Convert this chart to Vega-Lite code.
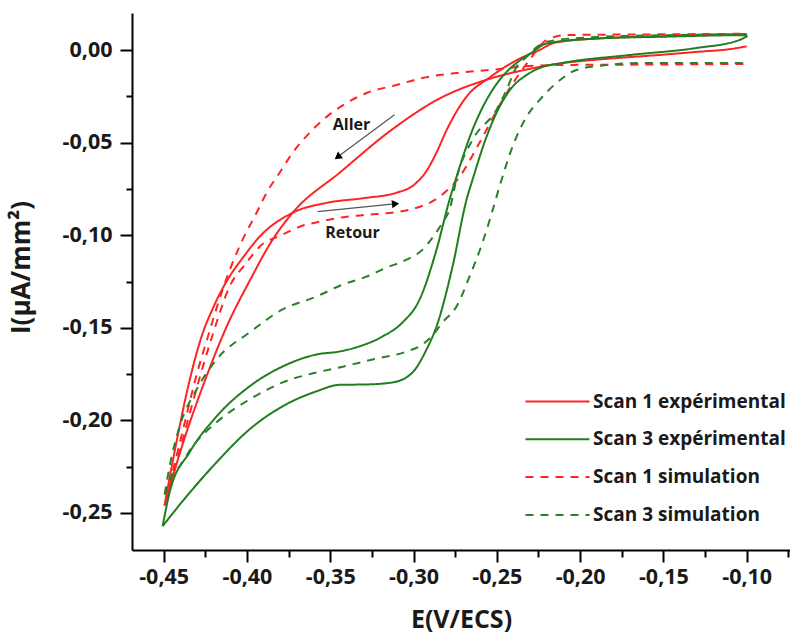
{
  "$schema": "https://vega.github.io/schema/vega-lite/v6.json",
  "width": 658,
  "height": 537,
  "autosize": {"type": "none"},
  "padding": {"left": 132, "top": 13, "right": 0, "bottom": 90},
  "background": "white",
  "config": {
    "view": {"stroke": null},
    "font": "Open Sans",
    "axis": {
      "domainColor": "#000000", "domainWidth": 2, "tickColor": "#000000", "tickWidth": 2,
      "grid": false, "labelFont": "Open Sans", "labelFontWeight": "bold", "labelFontSize": 21.5,
      "labelColor": "#1a1a1a", "titleFont": "Open Sans", "titleFontWeight": "bold", "titleFontSize": 26, "titleColor": "#1a1a1a"
    }
  },
  "datasets": {
    "curves": [
      {"series": "Scan 1 expérimental", "branch": "a", "E": -0.100, "I": 0.002},
      {"series": "Scan 1 expérimental", "branch": "a", "E": -0.110, "I": 0.0005},
      {"series": "Scan 1 expérimental", "branch": "a", "E": -0.130, "I": -0.001},
      {"series": "Scan 1 expérimental", "branch": "a", "E": -0.150, "I": -0.0025},
      {"series": "Scan 1 expérimental", "branch": "a", "E": -0.170, "I": -0.0038},
      {"series": "Scan 1 expérimental", "branch": "a", "E": -0.190, "I": -0.0052},
      {"series": "Scan 1 expérimental", "branch": "a", "E": -0.210, "I": -0.007},
      {"series": "Scan 1 expérimental", "branch": "a", "E": -0.232, "I": -0.0105},
      {"series": "Scan 1 expérimental", "branch": "a", "E": -0.256, "I": -0.016},
      {"series": "Scan 1 expérimental", "branch": "a", "E": -0.284, "I": -0.026},
      {"series": "Scan 1 expérimental", "branch": "a", "E": -0.313, "I": -0.043},
      {"series": "Scan 1 expérimental", "branch": "a", "E": -0.344, "I": -0.066},
      {"series": "Scan 1 expérimental", "branch": "a", "E": -0.3726, "I": -0.0879},
      {"series": "Scan 1 expérimental", "branch": "a", "E": -0.385, "I": -0.103},
      {"series": "Scan 1 expérimental", "branch": "a", "E": -0.398, "I": -0.124},
      {"series": "Scan 1 expérimental", "branch": "a", "E": -0.413, "I": -0.151},
      {"series": "Scan 1 expérimental", "branch": "a", "E": -0.425, "I": -0.178},
      {"series": "Scan 1 expérimental", "branch": "a", "E": -0.439, "I": -0.214},
      {"series": "Scan 1 expérimental", "branch": "a", "E": -0.4495, "I": -0.246},
      {"series": "Scan 1 expérimental", "branch": "r", "E": -0.4495, "I": -0.246},
      {"series": "Scan 1 expérimental", "branch": "r", "E": -0.4428, "I": -0.214},
      {"series": "Scan 1 expérimental", "branch": "r", "E": -0.435, "I": -0.1806},
      {"series": "Scan 1 expérimental", "branch": "r", "E": -0.4278, "I": -0.1563},
      {"series": "Scan 1 expérimental", "branch": "r", "E": -0.4194, "I": -0.1374},
      {"series": "Scan 1 expérimental", "branch": "r", "E": -0.4116, "I": -0.124},
      {"series": "Scan 1 expérimental", "branch": "r", "E": -0.402, "I": -0.1116},
      {"series": "Scan 1 expérimental", "branch": "r", "E": -0.3924, "I": -0.1008},
      {"series": "Scan 1 expérimental", "branch": "r", "E": -0.3726, "I": -0.0879},
      {"series": "Scan 1 expérimental", "branch": "r", "E": -0.352, "I": -0.0825},
      {"series": "Scan 1 expérimental", "branch": "r", "E": -0.330, "I": -0.080},
      {"series": "Scan 1 expérimental", "branch": "r", "E": -0.310, "I": -0.077},
      {"series": "Scan 1 expérimental", "branch": "r", "E": -0.300, "I": -0.073},
      {"series": "Scan 1 expérimental", "branch": "r", "E": -0.292, "I": -0.065},
      {"series": "Scan 1 expérimental", "branch": "r", "E": -0.286, "I": -0.055},
      {"series": "Scan 1 expérimental", "branch": "r", "E": -0.280, "I": -0.043},
      {"series": "Scan 1 expérimental", "branch": "r", "E": -0.268, "I": -0.025},
      {"series": "Scan 1 expérimental", "branch": "r", "E": -0.254, "I": -0.0146},
      {"series": "Scan 1 expérimental", "branch": "r", "E": -0.238, "I": -0.0054},
      {"series": "Scan 1 expérimental", "branch": "r", "E": -0.2244, "I": 0.0},
      {"series": "Scan 1 expérimental", "branch": "r", "E": -0.215, "I": 0.004},
      {"series": "Scan 1 expérimental", "branch": "r", "E": -0.190, "I": 0.0062},
      {"series": "Scan 1 expérimental", "branch": "r", "E": -0.150, "I": 0.0075},
      {"series": "Scan 1 expérimental", "branch": "r", "E": -0.100, "I": 0.0086},

      {"series": "Scan 1 simulation", "branch": "a", "E": -0.100, "I": -0.0075},
      {"series": "Scan 1 simulation", "branch": "a", "E": -0.150, "I": -0.0078},
      {"series": "Scan 1 simulation", "branch": "a", "E": -0.2124, "I": -0.0081},
      {"series": "Scan 1 simulation", "branch": "a", "E": -0.2304, "I": -0.0086},
      {"series": "Scan 1 simulation", "branch": "a", "E": -0.2544, "I": -0.0108},
      {"series": "Scan 1 simulation", "branch": "a", "E": -0.2742, "I": -0.0124},
      {"series": "Scan 1 simulation", "branch": "a", "E": -0.2946, "I": -0.0151},
      {"series": "Scan 1 simulation", "branch": "a", "E": -0.3102, "I": -0.0189},
      {"series": "Scan 1 simulation", "branch": "a", "E": -0.3282, "I": -0.0232},
      {"series": "Scan 1 simulation", "branch": "a", "E": -0.3402, "I": -0.0286},
      {"series": "Scan 1 simulation", "branch": "a", "E": -0.3522, "I": -0.0361},
      {"series": "Scan 1 simulation", "branch": "a", "E": -0.3624, "I": -0.0447},
      {"series": "Scan 1 simulation", "branch": "a", "E": -0.3726, "I": -0.0555},
      {"series": "Scan 1 simulation", "branch": "a", "E": -0.3804, "I": -0.0663},
      {"series": "Scan 1 simulation", "branch": "a", "E": -0.3882, "I": -0.0771},
      {"series": "Scan 1 simulation", "branch": "a", "E": -0.3942, "I": -0.0879},
      {"series": "Scan 1 simulation", "branch": "a", "E": -0.4026, "I": -0.1024},
      {"series": "Scan 1 simulation", "branch": "a", "E": -0.4086, "I": -0.1148},
      {"series": "Scan 1 simulation", "branch": "a", "E": -0.4146, "I": -0.1294},
      {"series": "Scan 1 simulation", "branch": "a", "E": -0.4235, "I": -0.155},
      {"series": "Scan 1 simulation", "branch": "a", "E": -0.431, "I": -0.178},
      {"series": "Scan 1 simulation", "branch": "a", "E": -0.437, "I": -0.200},
      {"series": "Scan 1 simulation", "branch": "a", "E": -0.443, "I": -0.222},
      {"series": "Scan 1 simulation", "branch": "a", "E": -0.4485, "I": -0.243},
      {"series": "Scan 1 simulation", "branch": "r", "E": -0.4485, "I": -0.243},
      {"series": "Scan 1 simulation", "branch": "r", "E": -0.439, "I": -0.212},
      {"series": "Scan 1 simulation", "branch": "r", "E": -0.430, "I": -0.182},
      {"series": "Scan 1 simulation", "branch": "r", "E": -0.421, "I": -0.155},
      {"series": "Scan 1 simulation", "branch": "r", "E": -0.4104, "I": -0.1277},
      {"series": "Scan 1 simulation", "branch": "r", "E": -0.4002, "I": -0.1148},
      {"series": "Scan 1 simulation", "branch": "r", "E": -0.3924, "I": -0.1062},
      {"series": "Scan 1 simulation", "branch": "r", "E": -0.3786, "I": -0.0997},
      {"series": "Scan 1 simulation", "branch": "r", "E": -0.3684, "I": -0.0954},
      {"series": "Scan 1 simulation", "branch": "r", "E": -0.3564, "I": -0.0927},
      {"series": "Scan 1 simulation", "branch": "r", "E": -0.3402, "I": -0.090},
      {"series": "Scan 1 simulation", "branch": "r", "E": -0.3282, "I": -0.089},
      {"series": "Scan 1 simulation", "branch": "r", "E": -0.3102, "I": -0.0875},
      {"series": "Scan 1 simulation", "branch": "r", "E": -0.3024, "I": -0.0862},
      {"series": "Scan 1 simulation", "branch": "r", "E": -0.2844, "I": -0.0792},
      {"series": "Scan 1 simulation", "branch": "r", "E": -0.2724, "I": -0.0685},
      {"series": "Scan 1 simulation", "branch": "r", "E": -0.2604, "I": -0.0501},
      {"series": "Scan 1 simulation", "branch": "r", "E": -0.2466, "I": -0.027},
      {"series": "Scan 1 simulation", "branch": "r", "E": -0.2304, "I": -0.0054},
      {"series": "Scan 1 simulation", "branch": "r", "E": -0.2202, "I": 0.0054},
      {"series": "Scan 1 simulation", "branch": "r", "E": -0.2082, "I": 0.0081},
      {"series": "Scan 1 simulation", "branch": "r", "E": -0.150, "I": 0.0085},
      {"series": "Scan 1 simulation", "branch": "r", "E": -0.100, "I": 0.0088},

      {"series": "Scan 3 expérimental", "branch": "a", "E": -0.0996, "I": 0.0075},
      {"series": "Scan 3 expérimental", "branch": "a", "E": -0.1044, "I": 0.0054},
      {"series": "Scan 3 expérimental", "branch": "a", "E": -0.1302, "I": 0.0011},
      {"series": "Scan 3 expérimental", "branch": "a", "E": -0.1704, "I": -0.0027},
      {"series": "Scan 3 expérimental", "branch": "a", "E": -0.2106, "I": -0.007},
      {"series": "Scan 3 expérimental", "branch": "a", "E": -0.2244, "I": -0.0097},
      {"series": "Scan 3 expérimental", "branch": "a", "E": -0.2322, "I": -0.0135},
      {"series": "Scan 3 expérimental", "branch": "a", "E": -0.2406, "I": -0.0199},
      {"series": "Scan 3 expérimental", "branch": "a", "E": -0.2484, "I": -0.0307},
      {"series": "Scan 3 expérimental", "branch": "a", "E": -0.2562, "I": -0.0469},
      {"series": "Scan 3 expérimental", "branch": "a", "E": -0.2646, "I": -0.0701},
      {"series": "Scan 3 expérimental", "branch": "a", "E": -0.2682, "I": -0.0809},
      {"series": "Scan 3 expérimental", "branch": "a", "E": -0.2766, "I": -0.117},
      {"series": "Scan 3 expérimental", "branch": "a", "E": -0.2862, "I": -0.1493},
      {"series": "Scan 3 expérimental", "branch": "a", "E": -0.2922, "I": -0.1617},
      {"series": "Scan 3 expérimental", "branch": "a", "E": -0.3006, "I": -0.1741},
      {"series": "Scan 3 expérimental", "branch": "a", "E": -0.3126, "I": -0.1795},
      {"series": "Scan 3 expérimental", "branch": "a", "E": -0.3282, "I": -0.1806},
      {"series": "Scan 3 expérimental", "branch": "a", "E": -0.3444, "I": -0.1808},
      {"series": "Scan 3 expérimental", "branch": "a", "E": -0.3582, "I": -0.1843},
      {"series": "Scan 3 expérimental", "branch": "a", "E": -0.3786, "I": -0.1924},
      {"series": "Scan 3 expérimental", "branch": "a", "E": -0.3984, "I": -0.2048},
      {"series": "Scan 3 expérimental", "branch": "a", "E": -0.4182, "I": -0.2226},
      {"series": "Scan 3 expérimental", "branch": "a", "E": -0.4386, "I": -0.2436},
      {"series": "Scan 3 expérimental", "branch": "a", "E": -0.4506, "I": -0.2571},
      {"series": "Scan 3 expérimental", "branch": "r", "E": -0.4506, "I": -0.2571},
      {"series": "Scan 3 expérimental", "branch": "r", "E": -0.4464, "I": -0.2388},
      {"series": "Scan 3 expérimental", "branch": "r", "E": -0.4344, "I": -0.2172},
      {"series": "Scan 3 expérimental", "branch": "r", "E": -0.4182, "I": -0.1978},
      {"series": "Scan 3 expérimental", "branch": "r", "E": -0.3984, "I": -0.1816},
      {"series": "Scan 3 expérimental", "branch": "r", "E": -0.3786, "I": -0.1709},
      {"series": "Scan 3 expérimental", "branch": "r", "E": -0.3582, "I": -0.1644},
      {"series": "Scan 3 expérimental", "branch": "r", "E": -0.3444, "I": -0.1628},
      {"series": "Scan 3 expérimental", "branch": "r", "E": -0.3324, "I": -0.160},
      {"series": "Scan 3 expérimental", "branch": "r", "E": -0.3186, "I": -0.1547},
      {"series": "Scan 3 expérimental", "branch": "r", "E": -0.3066, "I": -0.1471},
      {"series": "Scan 3 expérimental", "branch": "r", "E": -0.2964, "I": -0.1348},
      {"series": "Scan 3 expérimental", "branch": "r", "E": -0.2862, "I": -0.1078},
      {"series": "Scan 3 expérimental", "branch": "r", "E": -0.2784, "I": -0.0809},
      {"series": "Scan 3 expérimental", "branch": "r", "E": -0.2742, "I": -0.0685},
      {"series": "Scan 3 expérimental", "branch": "r", "E": -0.2646, "I": -0.0431},
      {"series": "Scan 3 expérimental", "branch": "r", "E": -0.2562, "I": -0.027},
      {"series": "Scan 3 expérimental", "branch": "r", "E": -0.2484, "I": -0.0162},
      {"series": "Scan 3 expérimental", "branch": "r", "E": -0.2382, "I": -0.007},
      {"series": "Scan 3 expérimental", "branch": "r", "E": -0.2286, "I": -0.0011},
      {"series": "Scan 3 expérimental", "branch": "r", "E": -0.2202, "I": 0.0035},
      {"series": "Scan 3 expérimental", "branch": "r", "E": -0.1902, "I": 0.0062},
      {"series": "Scan 3 expérimental", "branch": "r", "E": -0.150, "I": 0.0072},
      {"series": "Scan 3 expérimental", "branch": "r", "E": -0.1026, "I": 0.008},
      {"series": "Scan 3 expérimental", "branch": "r", "E": -0.0996, "I": 0.0075},

      {"series": "Scan 3 simulation", "branch": "a", "E": -0.100, "I": -0.007},
      {"series": "Scan 3 simulation", "branch": "a", "E": -0.1644, "I": -0.007},
      {"series": "Scan 3 simulation", "branch": "a", "E": -0.1842, "I": -0.0081},
      {"series": "Scan 3 simulation", "branch": "a", "E": -0.2022, "I": -0.0108},
      {"series": "Scan 3 simulation", "branch": "a", "E": -0.2142, "I": -0.0178},
      {"series": "Scan 3 simulation", "branch": "a", "E": -0.2244, "I": -0.027},
      {"series": "Scan 3 simulation", "branch": "a", "E": -0.2322, "I": -0.0361},
      {"series": "Scan 3 simulation", "branch": "a", "E": -0.2406, "I": -0.0523},
      {"series": "Scan 3 simulation", "branch": "a", "E": -0.2484, "I": -0.0738},
      {"series": "Scan 3 simulation", "branch": "a", "E": -0.2530, "I": -0.0880},
      {"series": "Scan 3 simulation", "branch": "a", "E": -0.2586, "I": -0.104},
      {"series": "Scan 3 simulation", "branch": "a", "E": -0.2664, "I": -0.1224},
      {"series": "Scan 3 simulation", "branch": "a", "E": -0.2742, "I": -0.1385},
      {"series": "Scan 3 simulation", "branch": "a", "E": -0.2826, "I": -0.1471},
      {"series": "Scan 3 simulation", "branch": "a", "E": -0.2892, "I": -0.1547},
      {"series": "Scan 3 simulation", "branch": "a", "E": -0.2946, "I": -0.159},
      {"series": "Scan 3 simulation", "branch": "a", "E": -0.3042, "I": -0.1628},
      {"series": "Scan 3 simulation", "branch": "a", "E": -0.3246, "I": -0.1671},
      {"series": "Scan 3 simulation", "branch": "a", "E": -0.3444, "I": -0.1714},
      {"series": "Scan 3 simulation", "branch": "a", "E": -0.3582, "I": -0.1741},
      {"series": "Scan 3 simulation", "branch": "a", "E": -0.3786, "I": -0.1795},
      {"series": "Scan 3 simulation", "branch": "a", "E": -0.3984, "I": -0.1887},
      {"series": "Scan 3 simulation", "branch": "a", "E": -0.4182, "I": -0.201},
      {"series": "Scan 3 simulation", "branch": "a", "E": -0.4326, "I": -0.214},
      {"series": "Scan 3 simulation", "branch": "a", "E": -0.4404, "I": -0.2248},
      {"series": "Scan 3 simulation", "branch": "a", "E": -0.4464, "I": -0.2318},
      {"series": "Scan 3 simulation", "branch": "a", "E": -0.4494, "I": -0.240},
      {"series": "Scan 3 simulation", "branch": "r", "E": -0.4494, "I": -0.240},
      {"series": "Scan 3 simulation", "branch": "r", "E": -0.4464, "I": -0.2248},
      {"series": "Scan 3 simulation", "branch": "r", "E": -0.4404, "I": -0.2032},
      {"series": "Scan 3 simulation", "branch": "r", "E": -0.4302, "I": -0.1833},
      {"series": "Scan 3 simulation", "branch": "r", "E": -0.4182, "I": -0.1671},
      {"series": "Scan 3 simulation", "branch": "r", "E": -0.3984, "I": -0.1525},
      {"series": "Scan 3 simulation", "branch": "r", "E": -0.3786, "I": -0.1401},
      {"series": "Scan 3 simulation", "branch": "r", "E": -0.3582, "I": -0.1331},
      {"series": "Scan 3 simulation", "branch": "r", "E": -0.3426, "I": -0.1267},
      {"series": "Scan 3 simulation", "branch": "r", "E": -0.3282, "I": -0.1224},
      {"series": "Scan 3 simulation", "branch": "r", "E": -0.3162, "I": -0.1175},
      {"series": "Scan 3 simulation", "branch": "r", "E": -0.3042, "I": -0.1132},
      {"series": "Scan 3 simulation", "branch": "r", "E": -0.2946, "I": -0.1078},
      {"series": "Scan 3 simulation", "branch": "r", "E": -0.2886, "I": -0.1013},
      {"series": "Scan 3 simulation", "branch": "r", "E": -0.2826, "I": -0.0932},
      {"series": "Scan 3 simulation", "branch": "r", "E": -0.2784, "I": -0.0862},
      {"series": "Scan 3 simulation", "branch": "r", "E": -0.2736, "I": -0.0674},
      {"series": "Scan 3 simulation", "branch": "r", "E": -0.2646, "I": -0.0485},
      {"series": "Scan 3 simulation", "branch": "r", "E": -0.2502, "I": -0.0323},
      {"series": "Scan 3 simulation", "branch": "r", "E": -0.2442, "I": -0.0216},
      {"series": "Scan 3 simulation", "branch": "r", "E": -0.2382, "I": -0.0092},
      {"series": "Scan 3 simulation", "branch": "r", "E": -0.2322, "I": -0.0038},
      {"series": "Scan 3 simulation", "branch": "r", "E": -0.2244, "I": 0.0027},
      {"series": "Scan 3 simulation", "branch": "r", "E": -0.2142, "I": 0.0054},
      {"series": "Scan 3 simulation", "branch": "r", "E": -0.190, "I": 0.007},
      {"series": "Scan 3 simulation", "branch": "r", "E": -0.150, "I": 0.008},
      {"series": "Scan 3 simulation", "branch": "r", "E": -0.100, "I": 0.0085}
    ],
    "arrows": [
      {"label": "Aller", "E": -0.3114, "I": -0.035, "E2": -0.3440, "I2": -0.0567},
      {"label": "Retour", "E": -0.3576, "I": -0.0873, "E2": -0.3130, "I2": -0.0832}
    ],
    "heads": [
      {"label": "Aller", "E": -0.3450, "I": -0.0574},
      {"label": "Retour", "E": -0.3115, "I": -0.0831}
    ],
    "notes": [
      {"text": "Aller", "E": -0.3372, "I": -0.0404},
      {"text": "Retour", "E": -0.3366, "I": -0.0986}
    ]
  },
  "layer": [
    {
      "data": {"name": "curves"},
      "mark": {"type": "line", "strokeWidth": 2, "interpolate": "monotone", "clip": true},
      "encoding": {
        "x": {
          "field": "E", "type": "quantitative",
          "scale": {"domain": [-0.469, -0.074], "nice": false, "zero": false},
          "axis": {
            "title": "E(V/ECS)", "titlePadding": 20, "titleFontSize": 25,
            "values": [-0.45, -0.425, -0.4, -0.375, -0.35, -0.325, -0.3, -0.275, -0.25, -0.225, -0.2, -0.175, -0.15, -0.125, -0.1, -0.075],
            "labelExpr": "abs(datum.value*20 - round(datum.value*20)) < 0.01 ? replace(replace(format(datum.value, '.2f'), '.', ','), '\u2212', '-') : ''",
            "tickSize": {"condition": {"test": "abs(datum.value*20 - round(datum.value*20)) < 0.01", "value": 12}, "value": 7},
            "labelPadding": 4, "labelFlush": false, "labelOverlap": false
          }
        },
        "y": {
          "field": "I", "type": "quantitative",
          "scale": {"domain": [-0.27, 0.02], "nice": false, "zero": false},
          "axis": {
            "title": "I(µA/mm²)", "titlePadding": 28, "titleY": 254,
            "values": [0, -0.025, -0.05, -0.075, -0.1, -0.125, -0.15, -0.175, -0.2, -0.225, -0.25],
            "labelExpr": "abs(datum.value*20 - round(datum.value*20)) < 0.01 ? replace(replace(format(datum.value, '.2f'), '.', ','), '\u2212', '-') : ''",
            "tickSize": {"condition": {"test": "abs(datum.value*20 - round(datum.value*20)) < 0.01", "value": 12}, "value": 6},
            "labelPadding": 8, "labelFlush": false, "labelOverlap": false
          }
        },
        "order": {"field": "E", "type": "quantitative"},
        "detail": {"field": "branch", "type": "nominal"},
        "color": {
          "field": "series", "type": "nominal",
          "scale": {
            "domain": ["Scan 1 expérimental", "Scan 3 expérimental", "Scan 1 simulation", "Scan 3 simulation"],
            "range": ["#ff2424", "#1f7f1f", "#ff2424", "#2a7f2a"]
          },
          "legend": {
            "title": null, "orient": "none", "legendX": 440, "legendY": 379,
            "labelFont": "Open Sans", "labelFontWeight": "bold", "labelFontSize": 19, "labelColor": "#1a1a1a", "labelLimit": 400,
            "symbolType": "M-7,0H1", "symbolSize": 256, "symbolStrokeWidth": 2,
            "labelOffset": 2, "rowPadding": 17.8, "padding": 0
          }
        },
        "strokeDash": {
          "field": "series", "type": "nominal",
          "scale": {
            "domain": ["Scan 1 expérimental", "Scan 3 expérimental", "Scan 1 simulation", "Scan 3 simulation"],
            "range": [[1, 0], [1, 0], [8, 7], [8, 7]]
          },
          "legend": null
        }
      }
    },
    {
      "mark": {"type": "rule", "color": "#000000", "strokeWidth": 2},
      "encoding": {"y": {"datum": 0.02}}
    },
    {
      "data": {"name": "arrows"},
      "mark": {"type": "rule", "color": "#555555", "strokeWidth": 1.2},
      "encoding": {
        "x": {"field": "E", "type": "quantitative"},
        "y": {"field": "I", "type": "quantitative"},
        "x2": {"field": "E2"},
        "y2": {"field": "I2"}
      }
    },
    {
      "data": {"name": "heads"},
      "transform": [{"filter": "datum.label == 'Aller'"}],
      "mark": {"type": "point", "shape": "triangle", "filled": true, "color": "#000000", "size": 70, "angle": 233, "opacity": 1},
      "encoding": {
        "x": {"field": "E", "type": "quantitative"},
        "y": {"field": "I", "type": "quantitative"}
      }
    },
    {
      "data": {"name": "heads"},
      "transform": [{"filter": "datum.label == 'Retour'"}],
      "mark": {"type": "point", "shape": "triangle", "filled": true, "color": "#000000", "size": 70, "angle": 84, "opacity": 1},
      "encoding": {
        "x": {"field": "E", "type": "quantitative"},
        "y": {"field": "I", "type": "quantitative"}
      }
    },
    {
      "data": {"name": "notes"},
      "mark": {"type": "text", "font": "Open Sans", "fontWeight": "bold", "fontSize": 16, "color": "#1a1a1a", "align": "center", "baseline": "middle"},
      "encoding": {
        "x": {"field": "E", "type": "quantitative"},
        "y": {"field": "I", "type": "quantitative"},
        "text": {"field": "text"}
      }
    }
  ]
}
